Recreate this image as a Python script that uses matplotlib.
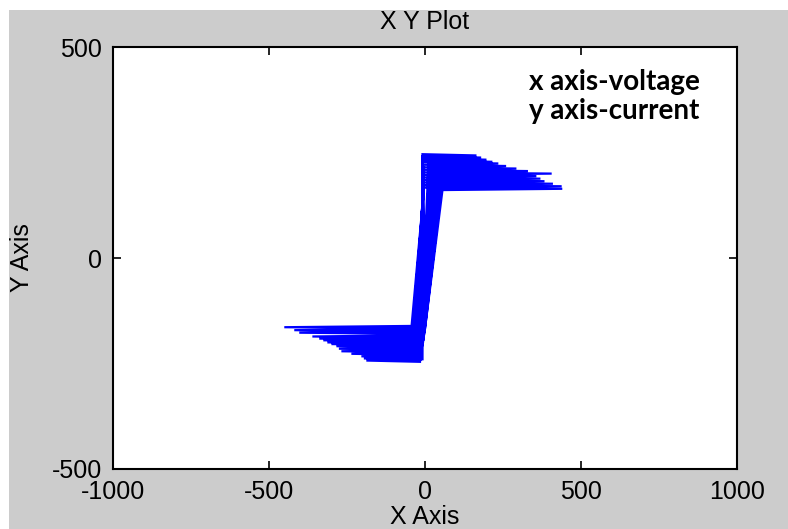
import matplotlib
matplotlib.use("Agg")
import matplotlib.pyplot as plt
from matplotlib.patches import Rectangle

plt.rcParams["axes.unicode_minus"] = False

# ---- data ----
# upper (positive-current) strokes, one per cycle
up_lvl = [246, 241, 236, 231, 227, 221, 215, 209, 203, 197, 191, 185, 179, 173, 167]
up_amp = [165, 180, 197, 216, 235, 260, 293, 330, 406, 357, 370, 383, 410, 438, 440]
up_x0 = [-8, -8, -7, -7, -7, -6, -6, -6, -5, -5, -5, -4, -4, -4, -3]
up_x1 = [12, 15, 18, 21, 24, 27, 30, 33, 36, 40, 43, 46, 50, 53, 56]
# lower (negative-current) strokes, one per cycle
lo_lvl = [-246, -241, -236, -230, -224, -218, -212, -207, -203, -198, -194, -189, -180, -174, -167]
lo_amp = [-188, -196, -204, -236, -268, -276, -284, -300, -313, -326, -339, -361, -403, -419, -451]
lo_x0 = [-16, -15, -14, -13, -12, -11, -10, -9, -8, -6, -5, -4, -3, -1, 0]
lo_x1 = [-8, -10, -12, -14, -17, -19, -21, -24, -26, -28, -31, -33, -37, -40, -43]

x_ticks = [-1000, -500, 0, 500, 1000]
y_ticks = [-500, 0, 500]

# assemble the traced path (start at origin)
xs, ys = [0], [0]
for k in range(len(up_lvl)):
    xs += [up_x0[k], up_amp[k], up_x1[k], lo_x0[k], lo_amp[k], lo_x1[k]]
    ys += [up_lvl[k], up_lvl[k] - 3, up_lvl[k] - 6,
           lo_lvl[k], lo_lvl[k] + 3, lo_lvl[k] + 6]
xs.append(up_x0[-1]); ys.append(up_lvl[-1])

W, H = 788, 529
fig = plt.figure(figsize=(W / 100, H / 100), dpi=100, facecolor="white")
fig.patches.append(Rectangle((9 / W, 0), 1, (H - 10) / H, transform=fig.transFigure,
                             facecolor="#cccccc", edgecolor="none", zorder=-10))

ax = fig.add_axes([113 / W, 1 - 469 / H, (737 - 113) / W, (469 - 47) / H])
ax.set_facecolor("white")
ax.plot(xs, ys, color=(0, 0, 1), lw=1.6, solid_joinstyle="miter")

ax.set_xlim(-1000, 1000)
ax.set_ylim(-500, 500)
ax.set_xticks(x_ticks)
ax.set_yticks(y_ticks)

fam = ["Liberation Sans", "DejaVu Sans"]
ax.tick_params(direction="in", length=6, width=1.2, top=True, right=True,
               labelsize=18, pad=8, colors="black")
for lab in ax.get_xticklabels() + ax.get_yticklabels():
    lab.set_family(fam)
for sp in ax.spines.values():
    sp.set_linewidth(1.5)
    sp.set_color("black")

ax.set_title("X Y Plot", family=fam, fontsize=18, pad=13)
ax.set_xlabel("X Axis", family=fam, fontsize=18, labelpad=1)
ax.set_ylabel("Y Axis", family=fam, fontsize=18, labelpad=13)

ax.text(333, 449, "x axis-voltage\ny axis-current", family=["Lato", "DejaVu Sans"],
        fontweight="bold", fontsize=20, va="top", ha="left", linespacing=1.15,
        color="black")

fig.savefig("out.png", dpi=100, facecolor=fig.get_facecolor())
